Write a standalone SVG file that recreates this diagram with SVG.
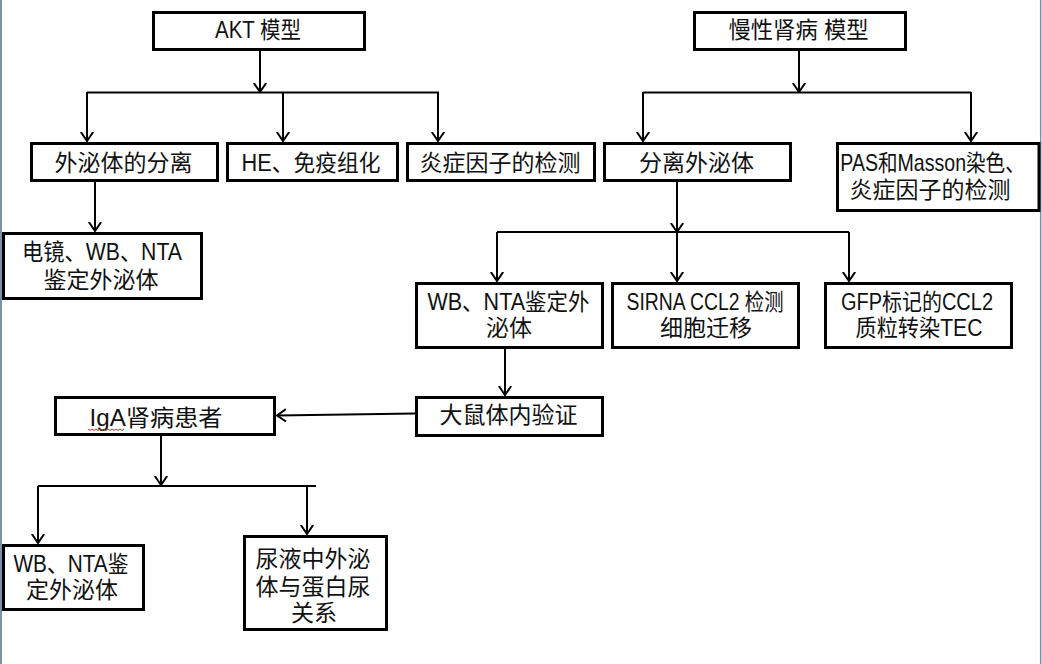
<svg xmlns="http://www.w3.org/2000/svg" width="1042" height="664" viewBox="0 0 1042 664">
<style>
.box rect{fill:#fff;stroke:#000;stroke-width:3}
text{font-family:"Liberation Sans","Noto Sans CJK SC",sans-serif;font-size:23px;fill:#111;text-anchor:middle}
.c line,.c polyline{stroke:#000;stroke-width:2;fill:none}
.a{marker-end:url(#ah)}
</style>
<defs>
<marker id="ah" viewBox="0 0 10 14" refX="9.5" refY="7" markerWidth="10" markerHeight="14" markerUnits="userSpaceOnUse" orient="auto">
<path d="M0.5,0.8 L9.5,7 L0.5,13.2" fill="none" stroke="#000" stroke-width="2"/>
</marker>
</defs>
<rect x="0" y="0" width="1042" height="664" fill="#fff"/>
<line x1="1" y1="0" x2="1" y2="664" stroke="#7c91a8" stroke-width="2"/>
<line x1="1040.7" y1="0" x2="1040.7" y2="664" stroke="#7c91a8" stroke-width="1.5"/>

<g id="connectors" class="c">
<line class="a" x1="260" y1="51" x2="260" y2="92"/>
<line x1="87" y1="92.5" x2="439" y2="92.5"/>
<line class="a" x1="87" y1="92" x2="87" y2="141"/>
<line class="a" x1="283" y1="92" x2="283" y2="141"/>
<line class="a" x1="438" y1="92" x2="438" y2="141"/>
<line class="a" x1="799" y1="51" x2="799" y2="92"/>
<line x1="643" y1="92.5" x2="971" y2="92.5"/>
<line class="a" x1="643" y1="92" x2="643" y2="141"/>
<line class="a" x1="971" y1="92" x2="971" y2="141"/>
<line class="a" x1="95" y1="182" x2="95" y2="231"/>
<line class="a" x1="677" y1="182" x2="677" y2="232"/>
<line x1="497" y1="232" x2="849" y2="232"/>
<line class="a" x1="497" y1="232" x2="497" y2="281"/>
<line class="a" x1="677" y1="232" x2="677" y2="281"/>
<line class="a" x1="849" y1="232" x2="849" y2="281"/>
<line class="a" x1="505" y1="349" x2="505" y2="395"/>
<line class="a" x1="415" y1="413.5" x2="277" y2="415.5"/>
<line class="a" x1="161" y1="436" x2="161" y2="485"/>
<line x1="38" y1="486" x2="316" y2="486"/>
<line class="a" x1="38" y1="486" x2="38" y2="543"/>
<line class="a" x1="307" y1="486" x2="307" y2="534"/>
</g>

<g id="akt" class="box"><rect x="153.5" y="12.5" width="211" height="37"/><text x="258" y="38" textLength="86" lengthAdjust="spacingAndGlyphs">AKT 模型</text></g>
<g id="ckd" class="box"><rect x="694.5" y="12.5" width="211" height="37"/><text x="798.5" y="38" textLength="140" lengthAdjust="spacingAndGlyphs">慢性肾病 模型</text></g>
<g id="akt-isolate" class="box"><rect x="31.5" y="143.5" width="186" height="37"/><text x="123.5" y="171">外泌体的分离</text></g>
<g id="akt-he" class="box"><rect x="227.5" y="143.5" width="170" height="37"/><text x="311" y="171" textLength="139" lengthAdjust="spacingAndGlyphs">HE、免疫组化</text></g>
<g id="akt-inflam" class="box"><rect x="407.5" y="143.5" width="187" height="37"/><text x="500" y="171">炎症因子的检测</text></g>
<g id="ckd-isolate" class="box"><rect x="604.5" y="143.5" width="186" height="37"/><text x="696.5" y="171">分离外泌体</text></g>
<g id="ckd-pas" class="box"><rect x="837.5" y="143.5" width="201.5" height="67"/><text transform="translate(932.5,171) scale(0.851,1)" x="0" y="0">PAS和Masson染色、</text><text x="930" y="198">炎症因子的检测</text></g>
<g id="akt-em" class="box"><rect x="3.5" y="233.5" width="198" height="65"/><text x="102" y="260" textLength="160" lengthAdjust="spacingAndGlyphs">电镜、WB、NTA</text><text x="101" y="288">鉴定外泌体</text></g>
<g id="ckd-wb" class="box"><rect x="416.5" y="283.5" width="186" height="64"/><text x="508.5" y="310" textLength="162" lengthAdjust="spacingAndGlyphs">WB、NTA鉴定外</text><text x="509" y="336">泌体</text></g>
<g id="ckd-sirna" class="box"><rect x="612.5" y="283.5" width="186" height="64"/><text x="705" y="310" textLength="157" lengthAdjust="spacingAndGlyphs">SIRNA CCL2 检测</text><text x="706" y="336">细胞迁移</text></g>
<g id="ckd-gfp" class="box"><rect x="825.5" y="283.5" width="186" height="64"/><text x="917" y="310" textLength="152" lengthAdjust="spacingAndGlyphs">GFP标记的CCL2</text><text x="919" y="336" textLength="127" lengthAdjust="spacingAndGlyphs">质粒转染TEC</text></g>
<g id="rat" class="box"><rect x="416.5" y="397.5" width="186" height="38"/><text x="508.5" y="423">大鼠体内验证</text></g>
<g id="iga" class="box"><rect x="55.5" y="397.5" width="219" height="37"/><text x="156" y="426" textLength="133" lengthAdjust="spacingAndGlyphs">IgA肾病患者</text>
<polyline points="88,429 90,430.5 92,429 94,430.5 96,429 98,430.5 100,429 102,430.5 104,429 106,430.5 108,429 110,430.5 112,429 114,430.5 116,429 118,430.5 120,429 122,430.5 124,429" fill="none" stroke="#e0262a" stroke-width="1"/></g>
<g id="iga-wb" class="box"><rect x="3.5" y="545.5" width="140" height="64"/><text x="71" y="572" textLength="115" lengthAdjust="spacingAndGlyphs">WB、NTA鉴</text><text x="72" y="598">定外泌体</text></g>
<g id="iga-urine" class="box"><rect x="244.5" y="536.5" width="142" height="93"/><text x="313" y="567">尿液中外泌</text><text x="313" y="595">体与蛋白尿</text><text x="314" y="621">关系</text></g>
</svg>
